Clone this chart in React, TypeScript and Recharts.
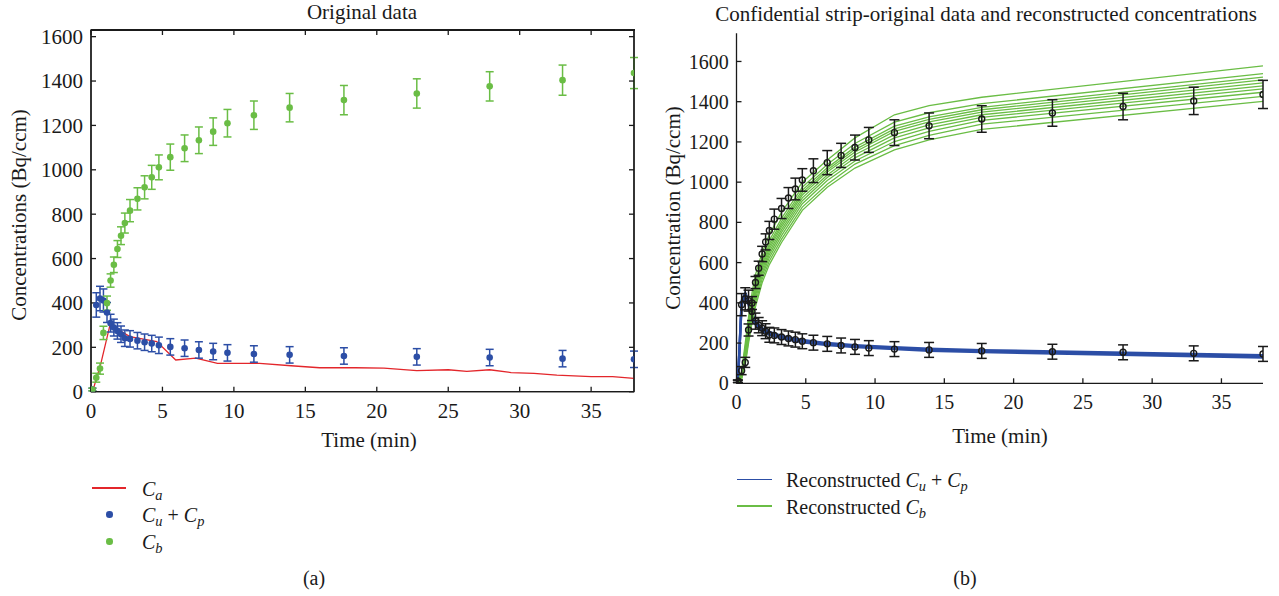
import React from "react";
import { ComposedChart, Line, Scatter, ErrorBar, XAxis, YAxis, ReferenceArea } from "recharts";

// sampled time points (min) shared by both measured series
const sampleTime = [0.1, 0.37, 0.63, 0.87, 1.12, 1.37, 1.6, 1.85, 2.1, 2.37, 2.73, 3.25, 3.75, 4.25, 4.75, 5.55, 6.55, 7.55, 8.55, 9.55, 11.4, 13.9, 17.7, 22.8, 27.9, 33.0, 38.0];
const cbValues = [10, 63, 104, 265, 399, 501, 572, 643, 703, 760, 816, 869, 921, 966, 1011, 1057, 1097, 1133, 1172, 1210, 1246, 1280, 1314, 1344, 1376, 1404, 1436];
const cbErrors = [6, 20, 25, 30, 32, 30, 35, 38, 40, 45, 50, 50, 52, 54, 56, 59, 60, 60, 62, 62, 64, 64, 66, 66, 66, 68, 70];
const cuCpValues = [10, 391, 420, 411, 357, 309, 289, 274, 259, 241, 238, 230, 223, 217, 209, 202, 196, 188, 181, 175, 170, 166, 161, 157, 154, 149, 146];
const cuCpErrors = [6, 55, 55, 52, 45, 40, 38, 37, 37, 37, 37, 37, 37, 37, 37, 37, 37, 37, 37, 37, 37, 37, 37, 37, 37, 37, 37];

// arterial input Ca
const caTime = [0, 0.2, 0.68, 1.33, 2.73, 4.6, 5.93, 7.33, 8.85, 11.8, 14, 16, 18.5, 20.5, 22.8, 25, 26.3, 27.9, 29.4, 31, 32.6, 35, 36.5, 38];
const caValues = [0, 20, 124, 301, 248, 226, 143, 151, 128, 128, 117, 108, 108, 106, 95, 99, 92, 99, 86, 83, 75, 68, 68, 60];

// reconstructed curves (panel b)
const recTime = [0, 0.1, 0.37, 0.63, 0.87, 1.12, 1.37, 1.85, 2.37, 3.25, 4.75, 6.55, 8.55, 11.4, 13.9, 17.7, 38];
const recCb = [
  [0, 0, 60, 200, 330, 450, 540, 650, 740, 850, 1000, 1110, 1220, 1335, 1380, 1422, 1578],
  [0, 0, 52, 178, 304, 420, 508, 620, 710, 820, 975, 1088, 1192, 1298, 1345, 1390, 1540],
  [0, 0, 47, 166, 288, 402, 490, 602, 693, 804, 960, 1071, 1174, 1278, 1325, 1372, 1522],
  [0, 0, 44, 156, 278, 390, 476, 590, 680, 790, 948, 1060, 1162, 1265, 1312, 1360, 1508],
  [0, 0, 41, 146, 266, 378, 463, 578, 668, 778, 936, 1050, 1150, 1252, 1300, 1348, 1494],
  [0, 0, 37, 136, 256, 364, 450, 564, 654, 764, 922, 1036, 1136, 1236, 1285, 1335, 1479],
  [0, 0, 34, 126, 243, 350, 436, 550, 640, 750, 908, 1023, 1121, 1220, 1270, 1322, 1464],
  [0, 0, 30, 115, 230, 336, 420, 535, 625, 734, 893, 1008, 1105, 1202, 1252, 1307, 1447],
  [0, 0, 25, 102, 215, 318, 400, 518, 608, 717, 876, 990, 1090, 1182, 1232, 1288, 1426],
  [0, 0, 20, 90, 200, 300, 380, 500, 590, 700, 860, 975, 1070, 1160, 1210, 1262, 1402],
];
const recCuCp = [
  [0, 0, 410, 450, 410, 350, 308, 275, 255, 236, 216, 200, 190, 180, 172, 165, 140],
  [0, 0, 400, 440, 400, 340, 300, 268, 248, 230, 210, 195, 185, 175, 167, 160, 134],
  [0, 0, 390, 430, 390, 330, 292, 262, 242, 224, 204, 190, 180, 170, 162, 155, 128],
];

const timeTicks = [0, 5, 10, 15, 20, 25, 30, 35];
const concTicks = [0, 200, 400, 600, 800, 1000, 1200, 1400, 1600];
const TIME_MAX = 38;
const LEFT_Y_MAX = 1630;

const FONT = '"Liberation Serif", "DejaVu Serif", serif';
const RED = "#e3262b";
const BLUE = "#2c4ea6";
const GREEN = "#6abd45";
const INK = "#1a1a1a";

const cbPoints = sampleTime.map((t, i) => ({ t, v: cbValues[i], e: cbErrors[i] }));
const cuCpPoints = sampleTime.map((t, i) => ({ t, v: cuCpValues[i], e: cuCpErrors[i] }));
const caTable = caTime.map((t, i) => ({ t, ca: caValues[i] }));
const recTable = recTime.map((t, i) => {
  const row: Record<string, number> = { t };
  recCb.forEach((s, k) => (row[`g${k}`] = s[i]));
  recCuCp.forEach((s, k) => (row[`b${k}`] = s[i]));
  return row;
});

const filledDot = (color: string) => (p: any) => <circle cx={p.cx} cy={p.cy} r={3.3} fill={color} />;
const openDot = (p: any) => <circle cx={p.cx} cy={p.cy} r={3} fill="none" stroke={INK} strokeWidth={1.4} />;

const Sym = ({ b, s }: { b: string; s: string }) => (
  <span style={{ fontStyle: "italic" }}>
    {b}
    <span style={{ fontSize: "0.72em", position: "relative", top: "0.3em" }}>{s}</span>
  </span>
);

const Text = ({ x, y, size, children, rotate, left }: any) => (
  <div
    style={{
      position: "absolute",
      left: x,
      top: y,
      fontSize: size,
      fontFamily: FONT,
      lineHeight: 1,
      whiteSpace: "nowrap",
      color: INK,
      transform: `translate(${left ? "0" : "-50%"}, -50%)${rotate ? " rotate(-90deg)" : ""}`,
    }}
  >
    {children}
  </div>
);

const axisLine = { stroke: INK, strokeWidth: 1.3 };

export default function App() {
  return (
    <div style={{ position: "absolute", left: 0, top: 0, width: 1279, height: 596, background: "#fff", fontFamily: FONT }}>
      {/* (a) original data, boxed frame */}
      <div style={{ position: "absolute", left: 0, top: 0 }}>
        <ComposedChart width={660} height={440} data={caTable} margin={{ top: 20, right: 25, bottom: 18.3, left: 0 }}>
          <XAxis dataKey="t" type="number" domain={[0, TIME_MAX]} allowDataOverflow ticks={timeTicks} height={30}
            tickSize={-5} tickMargin={16.6} axisLine={axisLine} tickLine={axisLine}
            tick={{ fill: INK, fontSize: 21, fontFamily: FONT }} />
          <XAxis xAxisId="top" orientation="top" dataKey="t" type="number" domain={[0, TIME_MAX]} allowDataOverflow ticks={timeTicks}
            height={10} tickSize={-5} tickMargin={2} tickFormatter={() => ""} axisLine={axisLine} tickLine={axisLine} />
          <YAxis type="number" domain={[0, LEFT_Y_MAX]} allowDataOverflow ticks={concTicks} width={91}
            tickSize={-5} tickMargin={13} axisLine={axisLine} tickLine={axisLine}
            tick={{ fill: INK, fontSize: 21, fontFamily: FONT }} />
          <YAxis yAxisId="right" orientation="right" type="number" domain={[0, LEFT_Y_MAX]} allowDataOverflow ticks={concTicks}
            width={1} tickSize={-5} tickFormatter={() => ""} axisLine={axisLine} tickLine={axisLine} />
          {/* keeps the top/right frame axes bound to a series */}
          <Line xAxisId="top" yAxisId="right" dataKey="ca" stroke="none" dot={false} activeDot={false} isAnimationActive={false} />
          <ReferenceArea x1={0} x2={TIME_MAX} y1={0} y2={LEFT_Y_MAX} fill="none" stroke={INK} strokeWidth={1.3} />
          <Line dataKey="ca" stroke={RED} strokeWidth={1.3} dot={false} isAnimationActive={false} />
          <Scatter data={cuCpPoints} dataKey="v" shape={filledDot(BLUE)} isAnimationActive={false}>
            <ErrorBar dataKey="e" direction="y" width={4} stroke={BLUE} strokeWidth={1.5} isAnimationActive={false} />
          </Scatter>
          <Scatter data={cbPoints} dataKey="v" shape={filledDot(GREEN)} isAnimationActive={false}>
            <ErrorBar dataKey="e" direction="y" width={4} stroke={GREEN} strokeWidth={1.5} isAnimationActive={false} />
          </Scatter>
        </ComposedChart>
      </div>
      {/* top edge of the frame */}
      <div style={{ position: "absolute", left: 91, top: 29.4, width: 543.5, height: 1.3, background: INK }} />

      {/* (b) reconstruction */}
      <div style={{ position: "absolute", left: 640, top: 0 }}>
        <ComposedChart width={639} height={440} data={recTable} margin={{ top: 33.3, right: 16, bottom: 26.7, left: 0 }}>
          <XAxis dataKey="t" type="number" domain={[0, TIME_MAX]} allowDataOverflow ticks={timeTicks} height={30}
            tickSize={-5} tickMargin={16.7} axisLine={axisLine} tickLine={axisLine}
            tick={{ fill: INK, fontSize: 20, fontFamily: FONT }} />
          <YAxis type="number" domain={[0, 1740]} allowDataOverflow ticks={concTicks} width={96.5}
            tickSize={-5} tickMargin={12.7} axisLine={axisLine} tickLine={axisLine}
            tick={{ fill: INK, fontSize: 20, fontFamily: FONT }} />
          {recCuCp.map((_, k) => (
            <Line key={`b${k}`} dataKey={`b${k}`} stroke={BLUE} strokeWidth={2.4} dot={false} isAnimationActive={false} />
          ))}
          {recCb.map((_, k) => (
            <Line key={`g${k}`} dataKey={`g${k}`} stroke={GREEN} strokeWidth={1.3} dot={false} isAnimationActive={false} />
          ))}
          <Scatter data={cuCpPoints} dataKey="v" shape={openDot} isAnimationActive={false}>
            <ErrorBar dataKey="e" direction="y" width={5} stroke={INK} strokeWidth={1.5} isAnimationActive={false} />
          </Scatter>
          <Scatter data={cbPoints} dataKey="v" shape={openDot} isAnimationActive={false}>
            <ErrorBar dataKey="e" direction="y" width={5} stroke={INK} strokeWidth={1.5} isAnimationActive={false} />
          </Scatter>
        </ComposedChart>
      </div>

      {/* titles and axis labels */}
      <Text x={362} y={11.5} size={21}>Original data</Text>
      <Text x={986} y={14} size={21}>Confidential strip-original data and reconstructed concentrations</Text>
      <Text x={19} y={215} size={21} rotate>Concentrations (Bq/ccm)</Text>
      <Text x={673} y={208} size={21} rotate>Concentration (Bq/ccm)</Text>
      <Text x={369} y={440} size={21}>Time (min)</Text>
      <Text x={1000} y={436} size={21}>Time (min)</Text>

      {/* legend (a) */}
      <div style={{ position: "absolute", left: 92, top: 487, width: 34, height: 1.5, background: RED }} />
      <div style={{ position: "absolute", left: 106, top: 511, width: 6.5, height: 6.5, borderRadius: "50%", background: BLUE }} />
      <div style={{ position: "absolute", left: 106, top: 538, width: 6.5, height: 6.5, borderRadius: "50%", background: GREEN }} />
      <Text x={142} y={489} size={20} left><Sym b="C" s="a" /></Text>
      <Text x={142} y={515} size={20} left><Sym b="C" s="u" /> + <Sym b="C" s="p" /></Text>
      <Text x={142} y={542} size={20} left><Sym b="C" s="b" /></Text>

      {/* legend (b) */}
      <div style={{ position: "absolute", left: 737, top: 478.5, width: 35, height: 1.5, background: BLUE }} />
      <div style={{ position: "absolute", left: 737, top: 505, width: 35, height: 1.5, background: GREEN }} />
      <Text x={786} y={480} size={20} left>Reconstructed <Sym b="C" s="u" /> + <Sym b="C" s="p" /></Text>
      <Text x={786} y={507} size={20} left>Reconstructed <Sym b="C" s="b" /></Text>

      <Text x={314} y={578} size={20}>(a)</Text>
      <Text x={965} y={578} size={20}>(b)</Text>
    </div>
  );
}
